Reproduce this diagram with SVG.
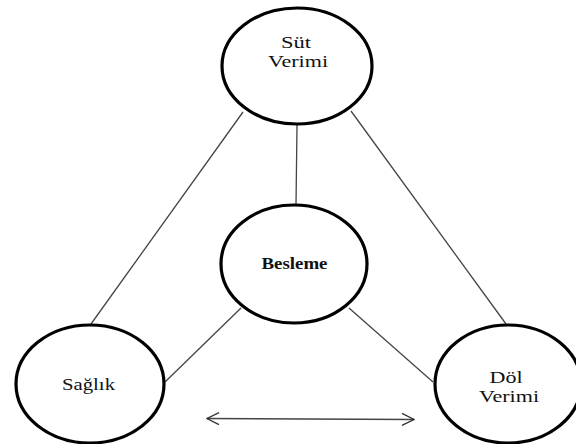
<svg xmlns="http://www.w3.org/2000/svg" width="576" height="444" viewBox="0 0 576 444">
<style>
.node ellipse{fill:#fff;stroke:#000;stroke-width:3.2}
.lbl{font-family:"Liberation Serif","Times New Roman",serif;font-size:16px;fill:#111;text-anchor:middle}
.conn line{stroke:#444;stroke-width:1.3;fill:none}
</style>
<defs>
<marker id="chev" viewBox="0 0 14 14" refX="13" refY="7" markerWidth="14" markerHeight="14" markerUnits="userSpaceOnUse" orient="auto-start-reverse">
<path d="M1,1 L13,7 L1,13" fill="none" stroke="#333" stroke-width="1.3"/>
</marker>
</defs>
<g id="connectors" class="conn">
<line x1="243" y1="112" x2="91" y2="324"/>
<line x1="297" y1="125" x2="296" y2="205"/>
<line x1="351" y1="111" x2="506" y2="324"/>
<line x1="241" y1="308" x2="165" y2="382"/>
<line x1="349" y1="308" x2="433" y2="382"/>
<line x1="207" y1="418.5" x2="414" y2="419.5" marker-start="url(#chev)" marker-end="url(#chev)"/>
</g>
<g id="sut-verimi" class="node">
<ellipse cx="297" cy="66" rx="75" ry="58"/>
<text class="lbl" x="296" y="48" textLength="30" lengthAdjust="spacingAndGlyphs">Süt</text>
<text class="lbl" x="298" y="67" textLength="60" lengthAdjust="spacingAndGlyphs">Verimi</text>
</g>
<g id="besleme" class="node">
<ellipse cx="294" cy="264" rx="73" ry="59"/>
<text class="lbl" x="294.5" y="269" font-weight="bold" font-size="15" textLength="66" lengthAdjust="spacingAndGlyphs">Besleme</text>
</g>
<g id="saglik" class="node">
<ellipse cx="90" cy="384" rx="74" ry="59"/>
<text class="lbl" x="88.5" y="390" textLength="53" lengthAdjust="spacingAndGlyphs">Sağlık</text>
</g>
<g id="dol-verimi" class="node">
<ellipse cx="508" cy="384" rx="73" ry="59"/>
<text class="lbl" x="506" y="383" textLength="33" lengthAdjust="spacingAndGlyphs">Döl</text>
<text class="lbl" x="509" y="402" textLength="60" lengthAdjust="spacingAndGlyphs">Verimi</text>
</g>
</svg>
